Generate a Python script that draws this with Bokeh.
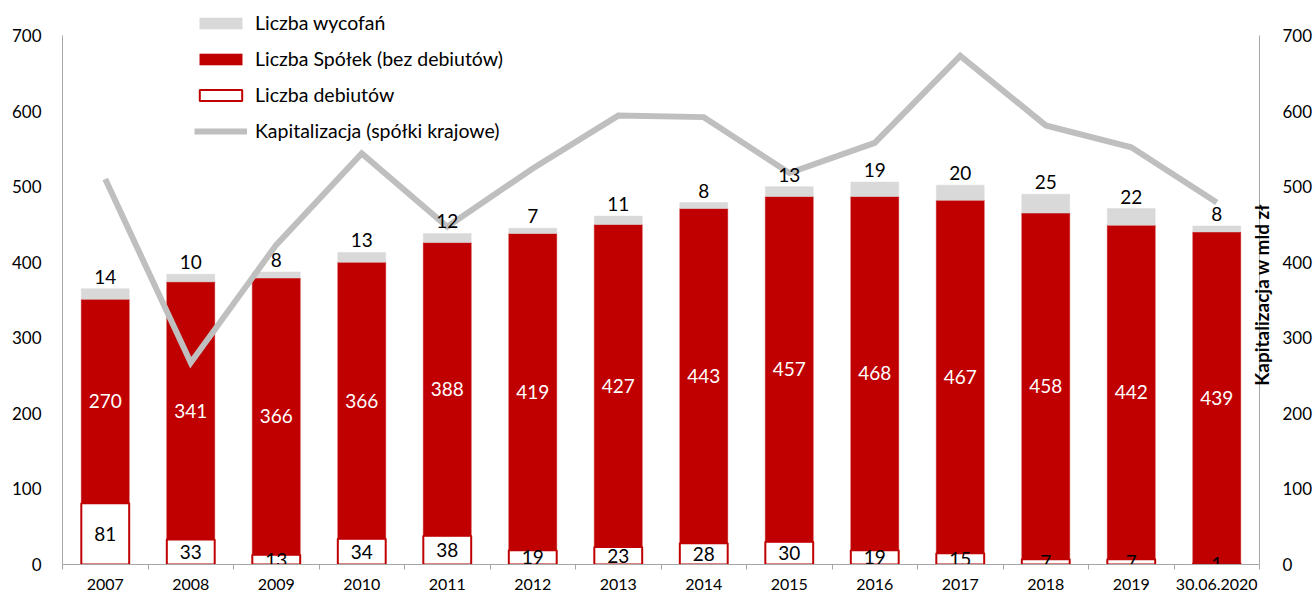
import numpy as np
from bokeh.plotting import figure
from bokeh.models import Range1d, LinearAxis, FixedTicker, ColumnDataSource, Legend, LegendItem, Label
from bokeh.core.properties import value
from bokeh.embed import file_html
from bokeh.resources import INLINE

years = ["2007", "2008", "2009", "2010", "2011", "2012", "2013", "2014", "2015", "2016", "2017", "2018", "2019", "30.06.2020"]
debiuty = [81, 33, 13, 34, 38, 19, 23, 28, 30, 19, 15, 7, 7, 1]
spolki = [270, 341, 366, 366, 388, 419, 427, 443, 457, 468, 467, 458, 442, 439]
wycofania = [14, 10, 8, 13, 12, 7, 11, 8, 13, 19, 20, 25, 22, 8]
kapitalizacja = [510, 267, 423, 544, 447, 524, 594, 592, 518, 558, 673, 581, 552, 479]
y_ticks = [0, 100, 200, 300, 400, 500, 600, 700]

FONT = "Lato"
RED = "#c00000"
LGRAY = "#d9d9d9"
LINEGRAY = "#bfbfbf"
AXGRAY = "#a6a6a6"

n = len(years)
x = np.arange(n) + 0.5
deb = np.array(debiuty)
spo = np.array(spolki)
wyc = np.array(wycofania)

src = ColumnDataSource(dict(
    x=x,
    deb_top=deb,
    spo_top=deb + spo,
    wyc_top=deb + spo + wyc,
    deb_mid=deb / 2.0,
    spo_mid=deb + spo / 2.0,
    deb_lbl=[str(v) for v in debiuty],
    spo_lbl=[str(v) for v in spolki],
    wyc_lbl=[str(v) for v in wycofania],
    kap=kapitalizacja,
))

# frame reaches the top of the page (legend sits above the 700 line) and a little
# past the right value axis (so the rotated axis title can sit on that axis line)
FRAME_H = 564
YTOP = 700 * FRAME_H / 529.0
PX_PER_CAT = 1198 / n
XEXTRA = 16 / PX_PER_CAT

p = figure(width=1315, height=595, output_backend="svg", toolbar_location=None,
           x_range=Range1d(0, n + XEXTRA), y_range=Range1d(0, YTOP),
           min_border_left=62, min_border_right=39, min_border_top=0, min_border_bottom=31)
p.outline_line_color = None
p.xgrid.visible = False
p.ygrid.visible = False
p.background_fill_color = "white"
p.border_fill_color = "white"

p.extra_y_ranges = {"cap": Range1d(0, YTOP)}

# axes
p.yaxis.ticker = FixedTicker(ticks=y_ticks)
p.yaxis.bounds = (0, 700)
p.yaxis.axis_line_color = AXGRAY
p.yaxis.major_tick_line_color = None
p.yaxis.minor_tick_line_color = None
p.yaxis.major_label_text_font = FONT
p.yaxis.major_label_text_font_size = "17px"
p.yaxis.major_label_text_color = "black"
p.yaxis.major_label_standoff = 15

ax_r = LinearAxis(y_range_name="cap", ticker=FixedTicker(ticks=y_ticks), bounds=(0, 700))
ax_r.axis_line_color = None
ax_r.major_tick_line_color = None
ax_r.minor_tick_line_color = None
ax_r.major_label_text_font = FONT
ax_r.major_label_text_font_size = "17px"
ax_r.major_label_text_color = "black"
ax_r.major_label_standoff = 1
p.add_layout(ax_r, "right")

# right value-axis line (at the end of the last category)
p.segment(x0=[n], y0=[0], x1=[n], y1=[700], line_color=AXGRAY, line_width=1, y_range_name="cap")

p.xaxis.ticker = FixedTicker(ticks=list(x), minor_ticks=list(range(0, n + 1)))
p.xaxis.bounds = (0, n)
p.xaxis.major_label_overrides = {float(xx): y for xx, y in zip(x, years)}
p.xaxis.axis_line_color = AXGRAY
p.xaxis.major_tick_line_color = None
p.xaxis.minor_tick_line_color = AXGRAY
p.xaxis.minor_tick_out = 5
p.xaxis.minor_tick_in = 0
p.xaxis.major_label_text_font = FONT
p.xaxis.major_label_text_font_size = "16px"
p.xaxis.major_label_text_color = "black"
p.xaxis.major_label_standoff = 8

W = 0.56
r_deb = p.vbar(x="x", bottom=0, top="deb_top", width=W, source=src,
               fill_color="white", line_color=RED, line_width=2)
r_spo = p.vbar(x="x", bottom="deb_top", top="spo_top", width=W, source=src,
               fill_color=RED, line_color=RED, line_width=0.5)
r_wyc = p.vbar(x="x", bottom="spo_top", top="wyc_top", width=W, source=src,
               fill_color=LGRAY, line_color=LGRAY, line_width=0.5)

r_line = p.line(x="x", y="kap", source=src, y_range_name="cap",
                line_color=LINEGRAY, line_width=6, line_join="miter")

p.text(x="x", y="deb_mid", text="deb_lbl", source=src, text_font=value(FONT),
       text_font_size="19px", text_color="black", text_align="center", text_baseline="middle")
p.text(x="x", y="spo_mid", text="spo_lbl", source=src, text_font=value(FONT),
       text_font_size="19px", text_color="white", text_align="center", text_baseline="middle")
p.text(x="x", y="wyc_top", text="wyc_lbl", source=src, text_font=value(FONT),
       text_font_size="19px", text_color="black", text_align="center", text_baseline="bottom",
       y_offset=-5)

title_r = Label(x=n + 2 / PX_PER_CAT, y=357, y_range_name="cap", text="Kapitalizacja w mld zł",
                angle=np.pi / 2, text_font=FONT, text_font_size="19px", text_font_style="bold",
                text_color="black", text_align="center", text_baseline="middle")
p.add_layout(title_r)

legend = Legend(items=[
    LegendItem(label="Liczba wycofań", renderers=[r_wyc]),
    LegendItem(label="Liczba Spółek (bez debiutów)", renderers=[r_spo]),
    LegendItem(label="Liczba debiutów", renderers=[r_deb]),
    LegendItem(label="Kapitalizacja (spółki krajowe)", renderers=[r_line]),
], location=(132, 422))
legend.label_text_font = FONT
legend.label_text_font_size = "19.5px"
legend.label_text_color = "black"
legend.glyph_width = 53
legend.glyph_height = 14
legend.label_height = 14
legend.label_standoff = 8
legend.spacing = 13
legend.padding = 4
legend.margin = 0
legend.border_line_color = None
legend.background_fill_alpha = 0
p.add_layout(legend, "center")

open("out.html", "w").write(file_html(p, INLINE))
